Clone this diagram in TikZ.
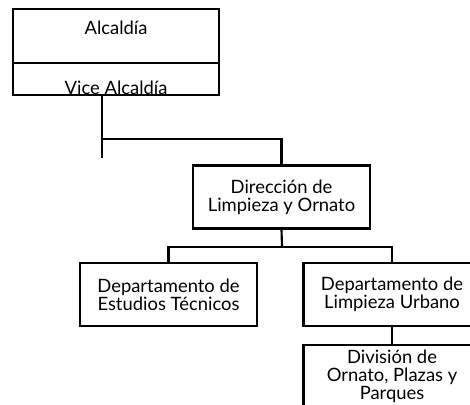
\documentclass[tikz,border=0pt]{standalone}
\usepackage{fontspec}
\setmainfont{Lato}
\begin{document}
\begin{tikzpicture}[x=0.75pt,y=-0.75pt,
  every node/.style={font=\fontsize{13.8}{13.4}\selectfont},
  box/.style={draw,line width=1.6pt,inner sep=0pt,align=center,
    minimum width=132.75pt,minimum height=47.25pt},
  topbox/.style={draw,line width=1.6pt,inner sep=0pt,minimum width=154.5pt,anchor=north west},
  conn/.style={line width=1.6pt,line join=miter}]
\useasboundingbox (0,0) rectangle (470,404);
\begin{scope}
\clip (0,0) rectangle (470,404);
\node[topbox,text height=18.75pt,text depth=21.75pt] (alc) at (12,8) {Alcaldía};
\node[topbox,text height=23.25pt,text depth=0.75pt] (vice) at (12,62) {Vice Alcaldía};
\node[box] (dir) at (281.5,197) {Dirección de\\Limpieza y Ornato};
\node[box] (est) at (168.5,294.5) {Departamento de\\Estudios Técnicos};
\node[box] (urb) at (392,294.5) {Departamento de\\Limpieza Urbano};
\node[box] (div) at (392,376.5) {División de\\Ornato, Plazas y\\Parques};
\coordinate (vend) at (102,158);
\coordinate (vj) at (102,139);
\coordinate (dj) at (282,247);
\draw[conn] (vice.south -| vend) -- (vend);
\draw[conn] (vj) -| (dir.north);
\draw[conn] (dir.south) -- (dj);
\draw[conn] (est.north) |- (dj) -| (urb.north);
\draw[conn] (urb.south) -- (div.north);
\end{scope}
\end{tikzpicture}
\end{document}
